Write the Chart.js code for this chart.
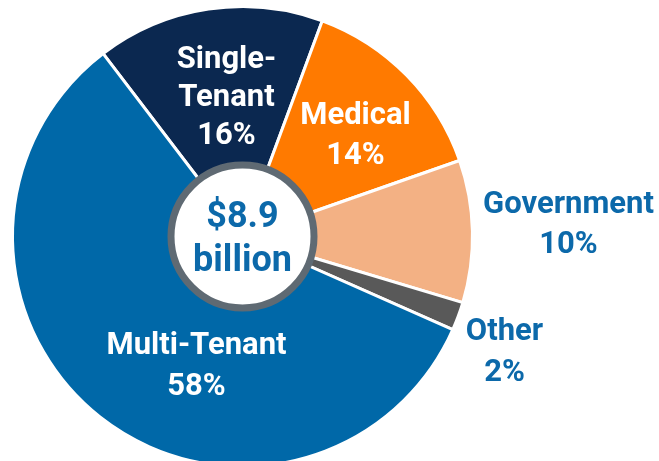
<!DOCTYPE html>
<html>
<head>
<meta charset="utf-8">
<script src="https://cdn.jsdelivr.net/npm/chart.js@4"></script>
<style>
    html, body { margin: 0; padding: 0; background: #fff; overflow: hidden; }
    #wrap { width: 659px; height: 472px; position: relative; }
</style>
</head>
<body>
<div id="wrap"><canvas id="mixChart"></canvas></div>
<script>
const categories = ['Single-Tenant', 'Medical', 'Government', 'Other', 'Multi-Tenant'];
const shares = [16, 14, 10, 2, 58];
const labelLines = [['Single-', 'Tenant'], ['Medical'], ['Government'], ['Other'], ['Multi-Tenant']];
const sliceColors = ['#0b2850', '#ff7a00', '#f3b184', '#595959', '#0068a8'];
const totalLines = ['$8.9', 'billion'];

const BLUE = '#0c69aa';

// where each label block sits, offset (px) from the pie centre, first baseline
const labelPlace = [
    { dx: -16, dy: -169, gap: 38, color: '#fff' },
    { dx: 113, dy: -113, gap: 40, color: '#fff' },
    { dx: 326, dy: -24, gap: 40, color: BLUE },
    { dx: 262, dy: 103, gap: 41, color: BLUE },
    { dx: -46, dy: 117, gap: 41, color: '#fff' }
];

const pieLabels = {
    id: 'pieLabels',
    afterDraw(chart) {
        const ctx = chart.ctx;
        const arcs = chart.getDatasetMeta(0).data;
        const cx = arcs[0].x, cy = arcs[0].y;

        // centre disc
        ctx.save();
        ctx.beginPath();
        ctx.arc(cx, cy, 71.5, 0, Math.PI * 2);
        ctx.fillStyle = '#fff';
        ctx.fill();
        ctx.lineWidth = 7;
        ctx.strokeStyle = '#5f6a73';
        ctx.stroke();

        ctx.textAlign = 'center';
        ctx.textBaseline = 'alphabetic';
        ctx.fillStyle = BLUE;
        ctx.font = 'bold 36px Roboto';
        ctx.fillText(totalLines[0], cx, cy - 10);
        ctx.fillText(totalLines[1], cx, cy + 34);

        ctx.font = 'bold 31px Roboto';
        shares.forEach((v, i) => {
            const p = labelPlace[i];
            const lines = labelLines[i].concat([v + '%']);
            ctx.fillStyle = p.color;
            lines.forEach((t, k) => {
                ctx.fillText(t, cx + p.dx, cy + p.dy + k * p.gap);
            });
        });
        ctx.restore();
    }
};

new Chart(document.getElementById('mixChart'), {
    type: 'pie',
    data: {
        labels: categories,
        datasets: [{
            data: shares,
            backgroundColor: sliceColors,
            borderColor: '#fff',
            borderWidth: 3,
            hoverOffset: 0
        }]
    },
    options: {
        responsive: true,
        maintainAspectRatio: false,
        animation: false,
        rotation: -37.3,
        layout: {
            padding: { left: 11, top: 5, right: 185, bottom: 4 }
        },
        plugins: {
            legend: { display: false },
            tooltip: { enabled: false }
        }
    },
    plugins: [pieLabels]
});
</script>
</body>
</html>
